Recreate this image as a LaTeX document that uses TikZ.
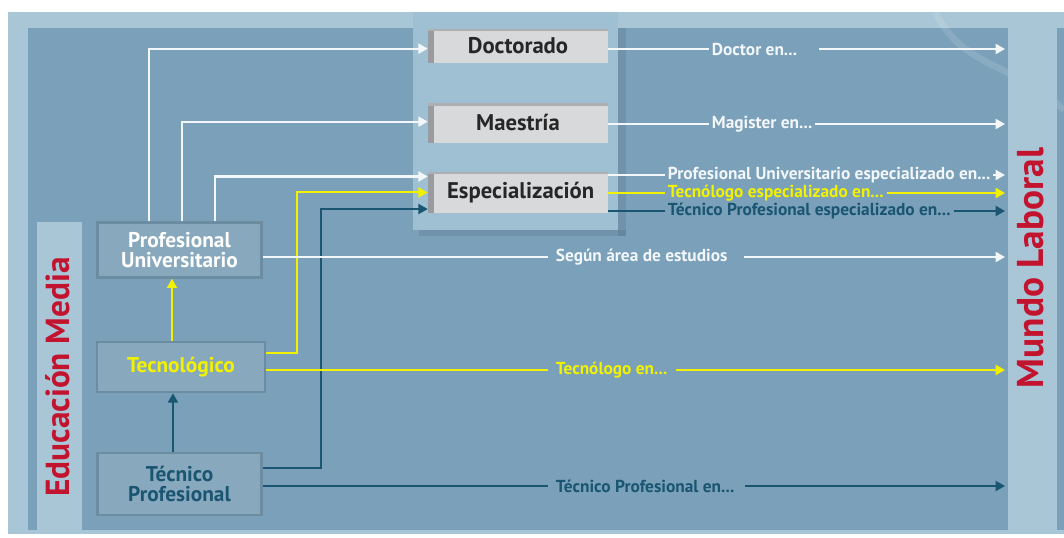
\documentclass[tikz,border=0pt]{standalone}
\usepackage{fontspec}
\setmainfont{PT Sans}
\usetikzlibrary{positioning,calc,arrows.meta}
\definecolor{panelblue}{HTML}{7AA0BA}
\definecolor{framelight}{HTML}{A8C6D6}
\definecolor{stackblue}{HTML}{9EC0D2}
\definecolor{boxgray}{HTML}{D8D9DB}
\definecolor{boxshade}{HTML}{9A9BA0}
\definecolor{levelblue}{HTML}{88A9BD}
\definecolor{leveledge}{HTML}{6B8CA1}
\definecolor{tealpath}{HTML}{1A5571}
\definecolor{yellowpath}{HTML}{F2F200}
\definecolor{labelred}{HTML}{C3142F}
\definecolor{whitepath}{HTML}{F3F7FA}

\tikzset{
  gradbox/.style={fill=boxgray, inner sep=0pt, minimum width=135pt,
    font=\fontsize{17}{18}\selectfont\bfseries, text=black!85,
    path picture={
      \fill[boxshade] (path picture bounding box.north west) rectangle ([xshift=4.5pt]path picture bounding box.south west);
      \fill[boxshade!80] (path picture bounding box.north west) rectangle ([yshift=-2pt]path picture bounding box.north east);}},
  levelbox/.style={fill=levelblue, draw=leveledge, line width=2pt, inner sep=0pt, align=center,
    font=\fontsize{16}{15.5}\selectfont\bfseries},
  striptext/.style={rotate=90, text=labelred, font=\bfseries},
  outlabel/.style={anchor=west, inner xsep=2pt, inner ysep=1pt, font=\fontsize{13}{14}\selectfont\bfseries},
  wline/.style={whitepath, line width=1.6pt},
  yline/.style={yellowpath, line width=1.5pt},
  tline/.style={tealpath, line width=1.5pt},
  arrowend/.style={-{Triangle[length=7pt,width=7.5pt]}}
}

\begin{document}
\begin{tikzpicture}[x=0.75pt,y=-0.75pt]
\useasboundingbox (0,0) rectangle (1064,538);
% frame and panels
\fill[white] (0,0) rectangle (1064,538);
\fill[framelight] (8,12) rectangle (1064,534);
\fill[panelblue] (28,28) rectangle (1008,530);
\fill[panelblue] (1057,28) rectangle (1064,530);
\fill[black, opacity=0.08] (618,28) rectangle (626,236);
\fill[black, opacity=0.08] (419,230) rectangle (626,236);
\fill[stackblue] (413,12) rectangle (618,230);
\draw[white, opacity=0.12, line width=5pt] (935,12) .. controls (965,70) and (1010,60) .. (1064,110);
% side strips
\fill[framelight] (37,222) rectangle (82,530);
\fill[framelight] (1008,28) rectangle (1057,530);
\node[striptext, font=\fontsize{25}{26}\selectfont\bfseries] (em) at (58,377) {Educación Media};
\node[striptext, font=\fontsize{28}{30}\selectfont\bfseries] (ml) at (1031,268) {Mundo Laboral};
\coordinate (edge) at (1005,0);

% postgraduate boxes
\node[gradbox, minimum height=26pt] (doc) at (518,46) {Doctorado};
\node[gradbox, minimum height=30pt] (mae) at (518,123) {Maestría};
\node[gradbox, minimum height=31pt] (esp) at (518,192.5) {\hspace*{4pt}Especialización};

% levels
\node[levelbox, minimum width=123pt, minimum height=41pt, text=white] (pu) at (179.5,250) {Profesional\\Universitario};
\node[levelbox, minimum width=126pt, minimum height=37.5pt, text=yellowpath] (tec) at (181,367) {Tecnológico};
\node[levelbox, minimum width=123pt, minimum height=46.5pt, text=tealpath] (tp) at (179.5,484) {Técnico\\Profesional};

% routes into the postgraduate boxes
\draw[wline, arrowend] ([xshift=39.75pt]pu.north west) |- ([yshift=-2pt]doc.west);
\draw[wline, arrowend] ([xshift=64.5pt]pu.north west) |- ([yshift=1pt]mae.west);
\draw[wline, arrowend] ([xshift=89.25pt]pu.north west) |- ([yshift=12pt]esp.west);
\draw[yline, arrowend] ([yshift=10.5pt]tec.east) -- ++(31,0) |- (esp.west);
\draw[tline, arrowend] ([yshift=12pt]tp.east) -- ++(58,0) |- ([yshift=-12.4pt]esp.west);
\draw[yline, arrowend] ([xshift=-6.75pt]tec.north) -- ([xshift=-6.75pt]tec.north |- pu.south);
\draw[tline, arrowend] ([xshift=-4.9pt]tp.north) -- ([xshift=-4.9pt]tp.north |- tec.south);

% outputs to the labour world
\node[outlabel, text=whitepath] (ldoc) at (709,49) {Doctor en...};
\draw[wline] (doc.east |- ldoc) -- (ldoc.west);
\draw[wline, arrowend] ([xshift=14pt]ldoc.east) -- (ldoc -| edge);

\node[outlabel, text=whitepath] (lmae) at (709,124) {Magister en...};
\draw[wline] (mae.east |- lmae) -- (lmae.west);
\draw[wline, arrowend] (lmae.east) -- (lmae -| edge);

\node[outlabel, text=whitepath] (lpue) at (665,175) {Profesional Universitario especializado en...};
\draw[wline] (esp.east |- lpue) -- (lpue.west);
\draw[wline, arrowend] (lpue.east) -- (lpue -| edge);

\node[outlabel, text=yellowpath] (ltee) at (665,193) {Tecnólogo especializado en...};
\draw[yline] (esp.east |- ltee) -- (ltee.west);
\draw[yline, arrowend] (ltee.east) -- (ltee -| edge);

\node[outlabel, text=tealpath] (ltpe) at (665,211) {Técnico Profesional especializado en...};
\draw[tline] (esp.east |- ltpe) -- (ltpe.west);
\draw[tline, arrowend] (ltpe.east) -- (ltpe -| edge);

\node[outlabel, text=whitepath] (lpu) at (553,257) {Según área de estudios};
\draw[wline] (pu.east |- lpu) -- ([xshift=-4pt]lpu.west);
\draw[wline, arrowend] ([xshift=10pt]lpu.east) -- (lpu -| edge);

\node[outlabel, text=yellowpath] (ltec) at (553,370) {Tecnólogo en...};
\draw[yline] (tec.east |- ltec) -- ([xshift=-4pt]ltec.west);
\draw[yline, arrowend] ([xshift=4pt]ltec.east) -- (ltec -| edge);

\node[outlabel, text=tealpath] (ltp) at (553,486) {Técnico Profesional en...};
\draw[tline] (tp.east |- ltp) -- ([xshift=-4pt]ltp.west);
\draw[tline, arrowend] ([xshift=6pt]ltp.east) -- (ltp -| edge);
\end{tikzpicture}
\end{document}
